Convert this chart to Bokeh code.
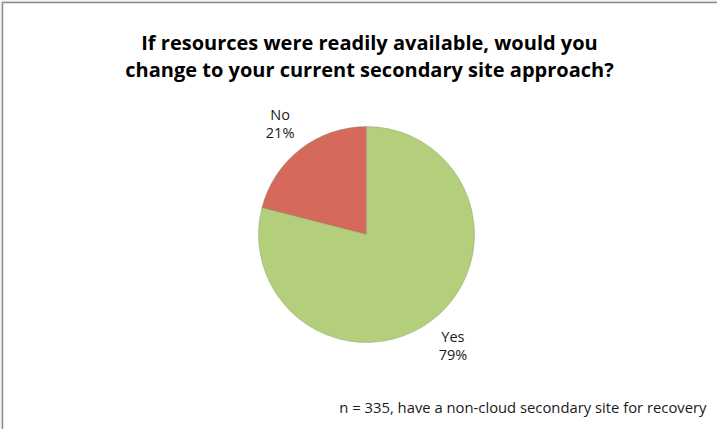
import math
from bokeh.plotting import figure
from bokeh.models import Range1d, Label, ColumnDataSource
from bokeh.core.properties import value
from bokeh.embed import file_html
from bokeh.resources import INLINE

categories = ["No", "Yes"]
shares = [21, 79]
colors = ["#d56a5c", "#b4cf7b"]
title_lines = ["If resources were readily available, would you",
               "change to your current secondary site approach?"]
footnote = "n = 335, have a non-cloud secondary site for recovery"

W, H = 717, 429
p = figure(width=W, height=H, output_backend="svg", toolbar_location=None,
           x_range=Range1d(0, W), y_range=Range1d(0, H), min_border=0)
p.axis.visible = False
p.grid.visible = False
p.outline_line_color = None
p.background_fill_color = "#ebebeb"
p.border_fill_color = "#ebebeb"

# white chart area with grey border
p.quad(left=2, right=W + 5, bottom=-5, top=H - 2, fill_color="white",
       line_color="#8c8c8c", line_width=1.5)

cx, cy, r = 366, 195, 108
total = sum(shares)
starts, ends, mids = [], [], []
a = math.pi / 2
for s in shares:
    sweep = 2 * math.pi * s / total
    starts.append(a)
    ends.append(a + sweep)
    mids.append(a + sweep / 2)
    a += sweep

src = ColumnDataSource(dict(cat=categories, start=starts, end=ends, color=colors))
p.wedge(x=cx, y=cy, radius=r, radius_units="screen", start_angle="start",
        end_angle="end", fill_color="color", line_color="#7d8c5c", line_alpha=0.35,
        line_width=1, source=src)

label_dist = 141
for cat, s, m in zip(categories, shares, mids):
    lx = cx + label_dist * math.cos(m)
    ly = cy + label_dist * math.sin(m)
    p.text(x=[lx], y=[ly + 9], text=[cat], text_font=value("Open Sans"),
           text_font_size="14.5px", text_align="center", text_baseline="middle",
           text_color="#1a1a1a")
    p.text(x=[lx], y=[ly - 9], text=[f"{s}%"], text_font=value("Open Sans"),
           text_font_size="14.5px", text_align="center", text_baseline="middle",
           text_color="#1a1a1a")

for i, line in enumerate(title_lines):
    p.add_layout(Label(x=369, y=387 - 27 * i, x_units="screen", y_units="screen",
                       text=line, text_font="Open Sans", text_font_size="20px",
                       text_font_style="bold", text_align="center",
                       text_baseline="middle", text_color="#000000"))

p.add_layout(Label(x=706, y=23, x_units="screen", y_units="screen",
                   text=footnote, text_font="Open Sans", text_font_size="14.8px",
                   text_align="right", text_baseline="middle", text_color="#1a1a1a"))

open("out.html", "w").write(file_html(p, INLINE))
